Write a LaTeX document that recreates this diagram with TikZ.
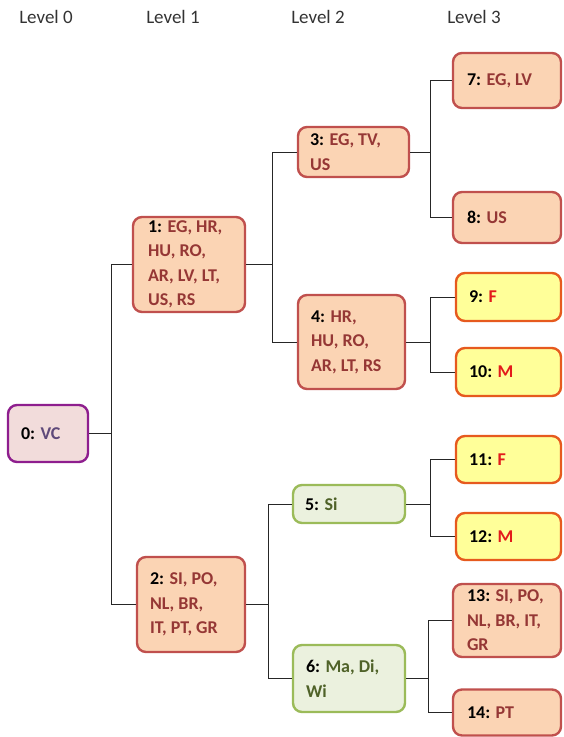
\documentclass[tikz,border=0pt]{standalone}
\usepackage{fontspec}
\setmainfont{Carlito}
\definecolor{peach}{HTML}{FBD4B4}
\definecolor{peachb}{HTML}{C0504D}
\definecolor{dred}{HTML}{953735}
\definecolor{yel}{HTML}{FFFF99}
\definecolor{yelb}{HTML}{E65A1E}
\definecolor{fm}{HTML}{E31B1B}
\definecolor{grn}{HTML}{EBF1DE}
\definecolor{grnb}{HTML}{9BBB59}
\definecolor{grnt}{HTML}{4F6228}
\definecolor{pur}{HTML}{F2DCDB}
\definecolor{purb}{HTML}{8E1E8E}
\definecolor{purt}{HTML}{5F497A}
\definecolor{lvl}{HTML}{333333}
\tikzset{
  box/.style={rounded corners=9pt, line width=2.4pt, inner sep=0pt},
  obox/.style={box, draw=peachb, fill=peach},
  ybox/.style={box, draw=yelb, fill=yel},
  gbox/.style={box, draw=grnb, fill=grn},
  pbox/.style={box, draw=purb, fill=pur},
  lbl/.style={anchor=west, align=left, inner sep=0pt, font=\fontsize{18}{24.5}\selectfont\bfseries},
  lvltxt/.style={inner sep=0pt, text=lvl, font=\fontsize{19}{23}\selectfont},
  conn/.style={draw=black!85, line width=1pt}
}
\newcommand{\bx}[1]{\textcolor{black}{#1}}
\begin{document}
\begin{tikzpicture}[x=1pt,y=-1pt]
\useasboundingbox (0,0) rectangle (563,737);
% level labels
\node[lvltxt] (L0) at (46,17) {Level 0};
\node[lvltxt] (L1) at (173,17) {Level 1};
\node[lvltxt] (L2) at (318,17) {Level 2};
\node[lvltxt] (L3) at (474,17) {Level 3};
% boxes
\node[pbox, minimum width=80, minimum height=57] (n0) at (48,433.5) {};
\node[obox, minimum width=112, minimum height=95] (n1) at (189,264.5) {};
\node[obox, minimum width=108, minimum height=95] (n2) at (191,604.5) {};
\node[obox, minimum width=111, minimum height=50] (n3) at (353.5,152) {};
\node[obox, minimum width=107, minimum height=94] (n4) at (351.5,342) {};
\node[gbox, minimum width=112, minimum height=38] (n5) at (349,504) {};
\node[gbox, minimum width=112, minimum height=67] (n6) at (349,678.5) {};
\node[obox, minimum width=108, minimum height=55] (n7) at (507,80.5) {};
\node[obox, minimum width=108, minimum height=51] (n8) at (507,217.5) {};
\node[ybox, minimum width=105, minimum height=48] (n9) at (508.5,297) {};
\node[ybox, minimum width=105, minimum height=48] (n10) at (508.5,372) {};
\node[ybox, minimum width=105, minimum height=47] (n11) at (508.5,459.5) {};
\node[ybox, minimum width=105, minimum height=47] (n12) at (508.5,536.5) {};
\node[obox, minimum width=108, minimum height=73] (n13) at (507,620.5) {};
\node[obox, minimum width=108, minimum height=46] (n14) at (507,712.5) {};
% texts
\node[lbl, text=purt] (t0) at ([xshift=14]n0.west) {\bx{0:} VC};
\node[lbl, text=dred] (t1) at ([xshift=16]n1.west) {\bx{1:} EG, HR,\\HU, RO,\\AR, LV, LT,\\US, RS};
\node[lbl, text=dred] (t2) at ([xshift=14]n2.west) {\bx{2:} SI, PO,\\NL, BR,\\IT, PT, GR};
\node[lbl, text=dred] (t3) at ([xshift=13]n3.west) {\bx{3:} EG, TV,\\US};
\node[lbl, text=dred] (t4) at ([xshift=14]n4.west) {\bx{4:} HR,\\HU, RO,\\AR, LT, RS};
\node[lbl, text=grnt] (t5) at ([xshift=13]n5.west) {\bx{5:} Si};
\node[lbl, text=grnt] (t6) at ([xshift=14]n6.west) {\bx{6:} Ma, Di,\\Wi};
\node[lbl, text=dred] (t7) at ([xshift=15]n7.west) {\bx{7:} EG, LV};
\node[lbl, text=dred] (t8) at ([xshift=15]n8.west) {\bx{8:} US};
\node[lbl, text=fm] (t9) at ([xshift=14]n9.west) {\bx{9:} F};
\node[lbl, text=fm] (t10) at ([xshift=14]n10.west) {\bx{10:} M};
\node[lbl, text=fm] (t11) at ([xshift=14]n11.west) {\bx{11:} F};
\node[lbl, text=fm] (t12) at ([xshift=14]n12.west) {\bx{12:} M};
\node[lbl, text=dred] (t13) at ([xshift=15]n13.west) {\bx{13:} SI, PO,\\NL, BR, IT,\\GR};
\node[lbl, text=dred] (t14) at ([xshift=15]n14.west) {\bx{14:} PT};
% junctions
\coordinate (j0) at (111,433.5);
\coordinate (j1) at (272,264.5);
\coordinate (j2) at (268,604.5);
\coordinate (j3) at (430,152);
\coordinate (j4) at (430,342);
\coordinate (j5) at (430,504);
\coordinate (j6) at (428,678.5);
% connectors
\draw[conn] (n0.east) -- (j0);
\draw[conn] (n1.west) -| (j0);
\draw[conn] (n2.west) -| (j0);
\draw[conn] (n1.east) -- (j1);
\draw[conn] (n3.west) -| (j1);
\draw[conn] (n4.west) -| (j1);
\draw[conn] (n2.east) -- (j2);
\draw[conn] (n5.west) -| (j2);
\draw[conn] (n6.west) -| (j2);
\draw[conn] (n3.east) -- (j3);
\draw[conn] (n7.west) -| (j3);
\draw[conn] (n8.west) -| (j3);
\draw[conn] (n4.east) -- (j4);
\draw[conn] (n9.west) -| (j4);
\draw[conn] (n10.west) -| (j4);
\draw[conn] (n5.east) -- (j5);
\draw[conn] (n11.west) -| (j5);
\draw[conn] (n12.west) -| (j5);
\draw[conn] (n6.east) -- (j6);
\draw[conn] (n13.west) -| (j6);
\draw[conn] (n14.west) -| (j6);
\end{tikzpicture}
\end{document}
